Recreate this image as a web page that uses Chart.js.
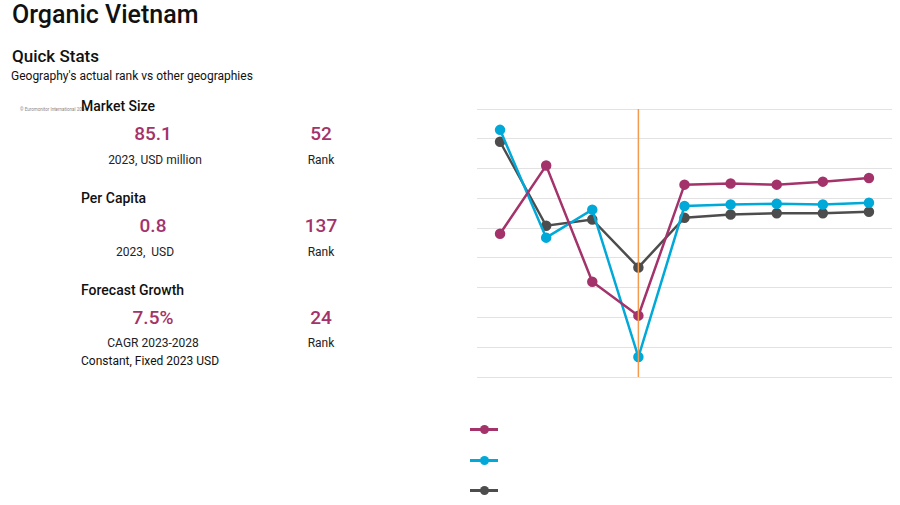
<!DOCTYPE html>
<html><head><meta charset="utf-8">
<script src="https://cdn.jsdelivr.net/npm/chart.js@4"></script>
<style>
body{margin:0;width:900px;height:505px;position:relative;font-family:Roboto,"Liberation Sans",sans-serif;background:#fff;color:#111;overflow:hidden}
.a{position:absolute;white-space:nowrap}
.v{color:#a3336a;font-size:19px;font-weight:500;transform:translateX(-50%)}
.s{font-size:12px;transform:translateX(-50%);color:#222}
.h{font-size:14px;font-weight:500}
.lg{position:absolute;left:470px;width:28px;height:3px}
.lg i{position:absolute;left:10px;top:-3px;width:9px;height:9px;border-radius:50%}
</style></head><body>
<div class="a" style="left:12px;top:0px;font-size:25px;font-weight:500">Organic Vietnam</div>
<div class="a" style="left:12px;top:46px;font-size:17px;font-weight:500">Quick Stats</div>
<div class="a" style="left:11px;top:69px;font-size:12px">Geography's actual rank vs other geographies</div>
<div class="a" style="left:20px;top:107px;font-size:4.5px;color:#888">© Euromonitor International 2024</div>

<div class="a h" style="left:81px;top:98px">Market Size</div>
<div class="a v" style="left:153px;top:122px">85.1</div>
<div class="a v" style="left:321px;top:122px">52</div>
<div class="a s" style="left:155px;top:153px">2023, USD million</div>
<div class="a s" style="left:321px;top:153px">Rank</div>

<div class="a h" style="left:81px;top:190px">Per Capita</div>
<div class="a v" style="left:153px;top:214px">0.8</div>
<div class="a v" style="left:321px;top:214px">137</div>
<div class="a s" style="left:145px;top:245px">2023,&nbsp; USD</div>
<div class="a s" style="left:321px;top:245px">Rank</div>

<div class="a h" style="left:81px;top:282px">Forecast Growth</div>
<div class="a v" style="left:153px;top:306px">7.5%</div>
<div class="a v" style="left:321px;top:306px">24</div>
<div class="a s" style="left:153px;top:336px">CAGR 2023-2028</div>
<div class="a s" style="left:321px;top:336px">Rank</div>
<div class="a" style="left:81px;top:354px;font-size:12px">Constant, Fixed 2023 USD</div>

<div class="lg" style="top:428px;background:#a3336a"><i style="background:#a3336a"></i></div>
<div class="lg" style="top:459px;background:#00a9d8"><i style="background:#00a9d8"></i></div>
<div class="lg" style="top:489px;background:#4d4d4d"><i style="background:#4d4d4d"></i></div>

<div style="position:absolute;left:470px;top:100px;width:430px;height:285px"><canvas id="c"></canvas></div>
<script>
const years = ['2019','2020','2021','2022','2023','2024','2025','2026','2027'];
const marketRank = [4.81,7.10,3.20,2.06,6.46,6.50,6.46,6.56,6.68];
const perCapitaRank = [8.30,4.68,5.62,0.67,5.74,5.79,5.82,5.79,5.85];
const growthRank = [7.90,5.08,5.29,3.68,5.35,5.46,5.50,5.50,5.55];
const markerIndex = 3;

const vline = {
  id:'vline',
  afterDatasetsDraw(chart){
    const {ctx, chartArea, scales} = chart;
    const x = scales.x.getPixelForValue(markerIndex);
    ctx.save();
    ctx.strokeStyle = '#f39a4e';
    ctx.lineWidth = 1.5;
    ctx.beginPath(); ctx.moveTo(x, chartArea.top); ctx.lineTo(x, chartArea.bottom); ctx.stroke();
    ctx.restore();
  }
};
const ds = (data, color) => ({data, borderColor:color, backgroundColor:color, borderWidth:2.5, pointRadius:4, tension:0});
new Chart(document.getElementById('c'), {
  type:'line',
  data:{labels:years, datasets:[
    ds(marketRank,'#a3336a'), ds(perCapitaRank,'#00a9d8'), ds(growthRank,'#4d4d4d')
  ]},
  options:{
    responsive:true, maintainAspectRatio:false, animation:false,
    layout:{padding:{left:7,right:8,top:9,bottom:8}},
    plugins:{legend:{display:false}, tooltip:{enabled:false}},
    scales:{
      x:{display:false, offset:true},
      y:{min:0, max:9, ticks:{display:false, stepSize:1}, grid:{color:'#e2e2e2', drawTicks:false}, border:{display:false}}
    }
  },
  plugins:[vline]
});
</script>
</body></html>
